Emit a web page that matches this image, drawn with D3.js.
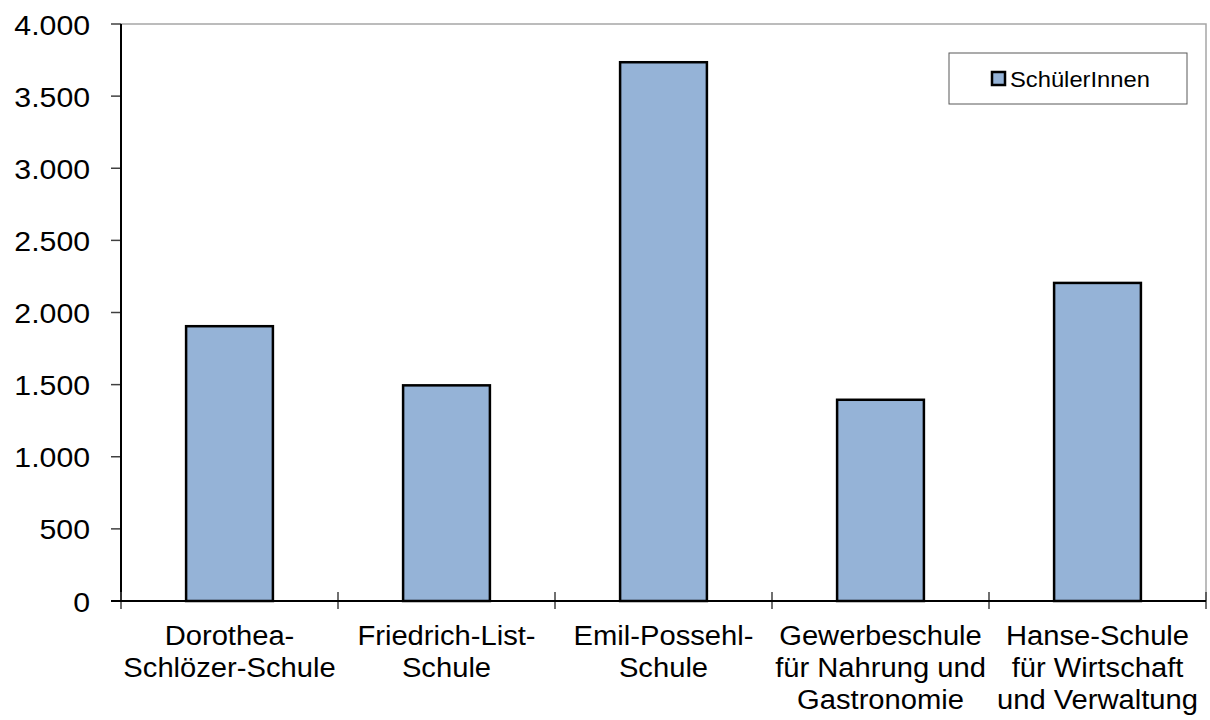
<!DOCTYPE html>
<html>
<head>
<meta charset="utf-8">
<script src="https://cdn.jsdelivr.net/npm/d3@7"></script>
<style>
  body { margin: 0; background: #fff; }
  text { font-family: "Liberation Sans", Arial, sans-serif; fill: #000; }
</style>
</head>
<body>
<svg id="chart" width="1210" height="720"></svg>
<script>
// Daten
var schools = [
	["Dorothea-", "Schlözer-Schule"],
	["Friedrich-List-", "Schule"],
	["Emil-Possehl-", "Schule"],
	["Gewerbeschule", "für Nahrung und", "Gastronomie"],
	["Hanse-Schule", "für Wirtschaft", "und Verwaltung"]
];
var pupils = [1905, 1495, 3735, 1395, 2205];
var yTicks = [0, 500, 1000, 1500, 2000, 2500, 3000, 3500, 4000];
var seriesName = "SchülerInnen";

var plotLeft = 121, plotRight = 1206, plotTop = 24, plotBottom = 601;
var stretch = 1.08;   // Schrift im Original leicht breitgezogen

var svg = d3.select("#chart");

var x = d3.scaleBand()
	.domain(d3.range(schools.length))
	.range([plotLeft, plotRight])
	.paddingInner(0.6)
	.paddingOuter(0.3);

var y = d3.scaleLinear()
	.domain([0, 4000])
	.range([plotBottom, plotTop]);

var fmt = function (v) { return d3.format(",")(v).replace(/,/g, "."); };

//------------- Rahmen oben / rechts
svg.append("path")
	.attr("d", "M" + plotLeft + "," + plotTop + "H" + plotRight + "V" + plotBottom)
	.attr("fill", "none")
	.attr("stroke", "#a6a6a6")
	.attr("stroke-width", 1.5);

//------------- Balken
svg.selectAll("rect.bar")
	.data(pupils)
	.enter()
		.append("rect")
		.attr("class", "bar")
		.attr("x", (_, i) => x(i))
		.attr("width", x.bandwidth())
		.attr("y", d => y(d))
		.attr("height", d => y(0) - y(d))
		.attr("fill", "#95b3d7")
		.attr("stroke", "#000")
		.attr("stroke-width", 2.5);

//------------- y-Achse
var yAxis = svg.append("g");
yAxis.selectAll("line")
	.data(yTicks)
	.enter()
		.append("line")
		.attr("x1", plotLeft - 10)
		.attr("x2", plotLeft)
		.attr("y1", d => y(d))
		.attr("y2", d => y(d))
		.attr("stroke", "#404040")
		.attr("stroke-width", 1.5);

yAxis.selectAll("text")
	.data(yTicks)
	.enter()
		.append("text")
		.attr("text-anchor", "end")
		.attr("dominant-baseline", "central")
		.attr("font-size", 28)
		.attr("transform", d => "translate(90," + (y(d) + 1) + ") scale(" + stretch + ",1)")
		.text(fmt);

svg.append("line")
	.attr("x1", plotLeft).attr("x2", plotLeft)
	.attr("y1", plotTop).attr("y2", plotBottom + 1)
	.attr("stroke", "#000")
	.attr("stroke-width", 2);

//------------- x-Achse
var bounds = d3.range(schools.length + 1).map(i => plotLeft + i * x.step());
svg.selectAll("line.xtick")
	.data(bounds)
	.enter()
		.append("line")
		.attr("class", "xtick")
		.attr("x1", d => d).attr("x2", d => d)
		.attr("y1", plotBottom - 9)
		.attr("y2", plotBottom + 8)
		.attr("stroke", "#404040")
		.attr("stroke-width", 1.5);

svg.append("line")
	.attr("x1", plotLeft - 10).attr("x2", plotRight)
	.attr("y1", plotBottom).attr("y2", plotBottom)
	.attr("stroke", "#000")
	.attr("stroke-width", 2);

var labels = svg.selectAll("g.xlabel")
	.data(schools)
	.enter()
		.append("g")
		.attr("class", "xlabel")
		.attr("transform", (_, i) => "translate(" + (x(i) + x.bandwidth() / 2) + ",645) scale(" + stretch + ",1)");

labels.selectAll("text")
	.data(d => d)
	.enter()
		.append("text")
		.attr("text-anchor", "middle")
		.attr("font-size", 27)
		.attr("y", (_, j) => j * 32)
		.text(d => d);

//------------- Legende
var legend = svg.append("g").attr("transform", "translate(949,53)");
legend.append("rect")
	.attr("width", 238)
	.attr("height", 51)
	.attr("fill", "#fff")
	.attr("stroke", "#595959")
	.attr("stroke-width", 1);
legend.append("rect")
	.attr("x", 43).attr("y", 19)
	.attr("width", 13).attr("height", 13)
	.attr("fill", "#95b3d7")
	.attr("stroke", "#000")
	.attr("stroke-width", 2.5);
legend.append("text")
	.attr("transform", "translate(61,34) scale(" + stretch + ",1)")
	.attr("font-size", 22)
	.text(seriesName);
</script>
</body>
</html>
